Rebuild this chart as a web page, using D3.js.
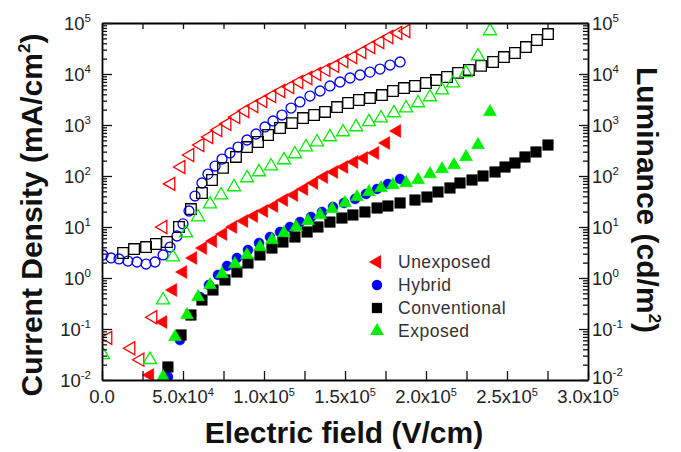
<!DOCTYPE html>
<html>
<head>
<meta charset="utf-8">
<script src="https://cdn.jsdelivr.net/npm/d3@7"></script>
<style>
  body { margin: 0; background: #fff; }
  text { font-family: "Liberation Sans", Arial, sans-serif; }
</style>
</head>
<body>
<svg id="chart" width="681" height="452"></svg>
<script>
// current density (open symbols, left axis) : [field V/cm, mA/cm2]
const jUnexposed = [[3700,0.067],[17900,0.042],[23500,0.025],[31500,0.17],[37700,10],[42600,70],[48800,150],[54300,258],[60500,405],[66000,582],[71600,798],[77200,1050],[82700,1430],[88300,1880],[93800,2360],[99400,2960],[104900,3700],[110500,4640],[116000,5560],[121600,6970],[127200,8350],[132700,10000],[138300,12000],[143800,14400],[149400,18000],[154900,21500],[160500,27000],[166000,33800],[171600,42400],[177200,53100],[182700,63700],[187700,69700]];
const jHybrid = [[600,2.83],[5600,2.47],[10500,2.36],[16000,2.15],[21600,2.06],[27200,1.88],[32700,2.06],[37700,2.83],[42000,4.05],[46300,6.66],[50000,11.5],[53700,20.6],[57400,40.5],[61700,72.9],[65400,109],[69800,157],[74100,215],[79000,283],[84000,370],[89500,508],[95100,666],[100600,914],[105600,1200],[111100,1570],[116700,2150],[122200,2830],[128400,3700],[134600,4640],[140700,5820],[146900,6970],[153100,8350],[159300,9560],[165400,10900],[171600,12500],[177800,15000],[184000,17200]];
const jConventional = [[13000,3.09],[19800,3.70],[27200,4.05],[33300,4.64],[40100,5.08],[47500,10.0],[54900,22.5],[61700,46.4],[67900,83.5],[74700,144],[82700,236],[89500,370],[96300,464],[102500,637],[109900,873],[117300,1090],[124100,1370],[130900,1570],[137700,1800],[145100,2250],[151900,2700],[158600,3090],[165400,3380],[172800,3870],[179600,4640],[186400,5310],[193200,5820],[200000,6660],[206200,7620],[213000,8730],[219800,10500],[226500,12000],[234000,14400],[241400,17200],[248100,21500],[254900,25800],[261700,33800],[268500,46400],[275300,60800]];
const jExposed = [[600,0.031],[29600,0.025],[37700,0.37],[43800,2.58],[51900,7.63],[59300,15.7],[66700,28.2],[73500,42.4],[81500,60.9],[89500,91.4],[96900,120],[104300,157],[112300,206],[119100,270],[125900,370],[132700,464],[140700,582],[148800,729],[156800,914],[164800,1150],[172200,1370],[180200,1720],[187700,2150],[195100,2700],[202500,3540],[209900,4850],[216700,6660],[224700,10500],[232100,22500],[239500,69700]];

// luminance (filled symbols, right axis) : [field V/cm, cd/m2]
const lUnexposed = [[29600,0.0125],[37700,0.137],[43800,0.582],[50000,1.31],[56200,2.47],[62300,3.87],[68500,5.31],[74700,7.29],[80900,10.0],[87700,13.1],[93800,16.4],[100000,20.6],[106200,25.8],[112300,33.8],[118500,42.4],[124700,55.6],[130900,72.9],[137000,95.6],[143200,120],[149400,150],[155600,188],[161700,225],[168500,283],[175300,444],[182100,763]];
const lHybrid = [[40700,0.0115],[48100,0.0608],[54900,0.188],[60500,0.424],[66000,0.729],[71600,1.15],[77200,1.72],[83300,2.47],[90100,3.54],[96900,4.86],[103700,6.37],[109900,7.98],[116000,10.0],[122200,12.5],[129000,15.7],[135800,19.7],[142600,24.7],[149400,29.6],[156200,35.4],[163000,44.4],[169800,55.6],[176500,69.7],[184000,87.4]];
const lConventional = [[40700,0.018],[48800,0.0763],[54900,0.188],[61700,0.37],[68500,0.582],[75900,0.914],[83300,1.31],[90100,1.97],[97500,2.83],[104900,3.87],[111700,5.08],[119100,6.37],[126600,7.98],[133300,10.0],[140700,12.5],[148100,15.0],[154900,17.2],[162300,19.7],[169800,23.6],[176500,25.8],[184000,29.6],[193200,33.8],[200600,38.7],[207400,48.6],[214800,58.2],[221000,72.9],[228400,83.5],[235200,100],[242600,120],[248800,150],[254900,180],[261100,236],[267900,296],[275300,405]];
const lExposed = [[37700,0.0115],[45100,0.0697],[52500,0.188],[59300,0.424],[66700,0.729],[74100,1.20],[82100,1.88],[89500,2.83],[97500,4.05],[104900,5.56],[112300,7.63],[119800,10.0],[127200,13.1],[134600,17.2],[142000,22.5],[150000,29.6],[157400,38.7],[164800,48.6],[172200,58.2],[179600,66.6],[187700,72.9],[195100,83.5],[202500,109],[209900,137],[217300,164],[224700,236],[232100,405],[239500,1800]];

const legendNames = ["Unexposed", "Hybrid", "Conventional", "Exposed"];
const xTickValues = [0, 50000, 100000, 150000, 200000, 250000, 300000];
const xTickLabels = [["0.0",""],["5.0x10","4"],["1.0x10","5"],["1.5x10","5"],["2.0x10","5"],["2.5x10","5"],["3.0x10","5"]];
const yDecades = [-2, -1, 0, 1, 2, 3, 4, 5];

const svg = d3.select("#chart");
const plotL = 102, plotR = 588, plotT = 23, plotB = 380;

const x = d3.scaleLinear().domain([0, 300000]).range([plotL, plotR]);
const yL = d3.scaleLog().domain([1e-2, 1e5]).range([plotB, plotT]);
const yR = yL.copy();

// marker shapes
const shapes = {
  left:   d3.symbol().type(d3.symbolTriangle).size(74)(),
  circle: d3.symbol().type(d3.symbolCircle).size(78)(),
  square: d3.symbol().type(d3.symbolSquare).size(112)(),
  up:     d3.symbol().type(d3.symbolTriangle).size(74)()
};
const rot = { left: -90, circle: 0, square: 0, up: 0 };

svg.append("clipPath").attr("id", "plotclip")
  .append("rect").attr("x", plotL).attr("y", plotT)
  .attr("width", plotR - plotL).attr("height", plotB - plotT);

const plot = svg.append("g").attr("clip-path", "url(#plotclip)");

function drawSeries(data, yScale, shape, color, filled) {
  plot.append("g").selectAll("path")
    .data(data)
    .enter().append("path")
    .attr("d", shapes[shape])
    .attr("transform", d => `translate(${x(d[0])},${yScale(d[1])}) rotate(${rot[shape]})`)
    .attr("fill", filled ? color : "none")
    .attr("stroke", color)
    .attr("stroke-width", filled ? 0.5 : 1.3);
}

// open symbols: current density
drawSeries(jUnexposed, yL, "left", "#ff0000", false);
drawSeries(jHybrid, yL, "circle", "#0000ff", false);
drawSeries(jConventional, yL, "square", "#000000", false);
drawSeries(jExposed, yL, "up", "#00ee00", false);

// filled symbols: luminance
drawSeries(lHybrid, yR, "circle", "#0000ff", true);
drawSeries(lConventional, yR, "square", "#000000", true);
drawSeries(lExposed, yR, "up", "#00ee00", true);
drawSeries(lUnexposed, yR, "left", "#ff0000", true);

// x ticks every 2.5e4, bottom and top, inward
const xTicks = d3.range(0, 300001, 25000);
const gxb = svg.append("g").attr("transform", `translate(0,${plotB})`)
  .call(d3.axisBottom(x).tickValues(xTicks).tickSize(-9).tickSizeOuter(0).tickFormat(""));
const gxt = svg.append("g").attr("transform", `translate(0,${plotT})`)
  .call(d3.axisTop(x).tickValues(xTicks).tickSize(-6).tickSizeOuter(0).tickFormat(""));

// y ticks: decades long, 2..9 short
const yTicks = [];
yDecades.forEach(e => {
  yTicks.push(Math.pow(10, e));
  if (e < 5) for (let m = 2; m <= 9; m++) yTicks.push(m * Math.pow(10, e));
});
const isMajor = v => Math.abs(Math.log10(v) - Math.round(Math.log10(v))) < 1e-9;

const gyl = svg.append("g").attr("transform", `translate(${plotL},0)`)
  .call(d3.axisLeft(yL).tickValues(yTicks).tickSizeOuter(0).tickFormat(""));
gyl.selectAll(".tick line").attr("x2", d => isMajor(d) ? 10 : 5);
const gyr = svg.append("g").attr("transform", `translate(${plotR},0)`)
  .call(d3.axisRight(yR).tickValues(yTicks).tickSizeOuter(0).tickFormat(""));
gyr.selectAll(".tick line").attr("x2", d => isMajor(d) ? -9 : -5);

[gxb, gxt, gyl, gyr].forEach(g => {
  g.select(".domain").attr("stroke", "#000").attr("stroke-width", 1.8);
  g.selectAll(".tick line").attr("stroke", "#111").attr("stroke-width", 1.3);
});

// tick labels
const tickColor = "#222";
xTickValues.forEach((v, i) => {
  const t = svg.append("text")
    .attr("x", x(v)).attr("y", 403)
    .attr("text-anchor", "middle")
    .attr("font-size", 18.5).attr("fill", tickColor);
  t.append("tspan").text(xTickLabels[i][0]);
  if (xTickLabels[i][1]) t.append("tspan").attr("dy", -7).attr("font-size", 11).text(xTickLabels[i][1]);
});

yDecades.forEach(e => {
  const yy = yL(Math.pow(10, e)) + 7;
  const tl = svg.append("text").attr("x", 91).attr("y", yy)
    .attr("text-anchor", "end").attr("font-size", 18.5).attr("fill", tickColor);
  tl.append("tspan").text("10");
  tl.append("tspan").attr("dy", -8).attr("font-size", 11.5).text(e < 0 ? "-" + (-e) : e);
  const tr = svg.append("text").attr("x", 592).attr("y", e === -2 ? yy - 3 : yy)
    .attr("text-anchor", "start").attr("font-size", 18.5).attr("fill", tickColor);
  tr.append("tspan").text("10");
  tr.append("tspan").attr("dy", -8).attr("font-size", 11.5).text(e < 0 ? "-" + (-e) : e);
});

// axis titles
svg.append("text").attr("x", 344).attr("y", 443)
  .attr("text-anchor", "middle").attr("font-size", 30).attr("font-weight", "bold").attr("fill", "#111")
  .text("Electric field (V/cm)");

const ylt = svg.append("text")
  .attr("transform", "translate(42,215) rotate(-90)")
  .attr("text-anchor", "middle").attr("font-size", 30).attr("font-weight", "bold").attr("fill", "#111");
ylt.append("tspan").text("Current Density (mA/cm");
ylt.append("tspan").attr("dy", -12).attr("font-size", 17).text("2");
ylt.append("tspan").attr("dy", 12).text(")");

const yrt = svg.append("text")
  .attr("transform", "translate(637,200) rotate(90)")
  .attr("text-anchor", "middle").attr("font-size", 30).attr("font-weight", "bold").attr("fill", "#111");
yrt.append("tspan").text("Luminance (cd/m");
yrt.append("tspan").attr("dy", -12).attr("font-size", 17).text("2");
yrt.append("tspan").attr("dy", 12).text(")");

// legend
const legendShapes = ["left", "circle", "square", "up"];
const legendColors = ["#ff0000", "#0000ff", "#000000", "#00ee00"];
const legendY = [262, 285, 308, 331];
const legend = svg.append("g");
legendNames.forEach((name, i) => {
  legend.append("path")
    .attr("d", d3.symbol().type(legendShapes[i] === "circle" ? d3.symbolCircle :
      legendShapes[i] === "square" ? d3.symbolSquare : d3.symbolTriangle).size(legendShapes[i] === "square" ? 105 : 85)())
    .attr("transform", `translate(377,${legendY[i]}) rotate(${rot[legendShapes[i]]})`)
    .attr("fill", legendColors[i]);
  legend.append("text")
    .attr("x", 398).attr("y", legendY[i] + 6)
    .attr("font-size", 17.5).attr("letter-spacing", 0.5).attr("fill", "#333")
    .text(name);
});
</script>
</body>
</html>
